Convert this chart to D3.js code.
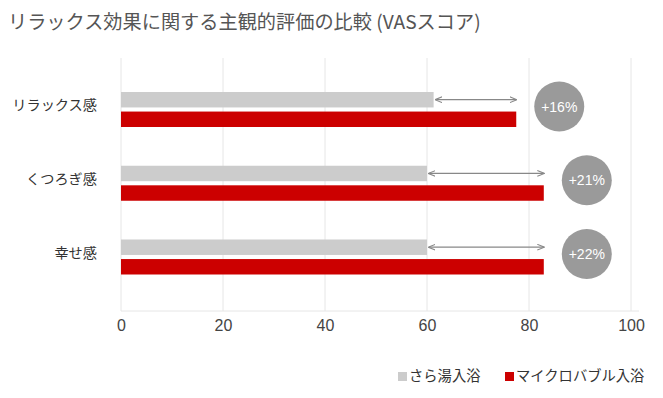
<!DOCTYPE html>
<html>
<head>
<meta charset="utf-8">
<script src="https://cdn.jsdelivr.net/npm/d3@7"></script>
<style>
  body { margin: 0; background: #fff; }
  svg text { font-family: "Noto Sans CJK JP", "Noto Sans", sans-serif; }
</style>
</head>
<body>
<svg id="chart" width="663" height="398"></svg>
<script>
const categories = ["リラックス感", "くつろぎ感", "幸せ感"];
const seriesNames = ["さら湯入浴", "マイクロバブル入浴"];
const plainBath = [61.3, 60, 60];
const microBath = [77.5, 82.9, 82.9];
const increaseLabels = ["+16%", "+21%", "+22%"];
const xTicks = [0, 20, 40, 60, 80, 100];

const colors = { "さら湯入浴": "#cccccc", "マイクロバブル入浴": "#cc0000" };
const latinFont = "'Liberation Sans', Arial, sans-serif";

const svg = d3.select("#chart");

svg.append("text")
  .attr("x", 8)
  .attr("y", 29)
  .attr("font-size", 19.2)
  .attr("fill", "#555")
  .text("リラックス効果に関する主観的評価の比較 (VASスコア)");

const x = d3.scaleLinear().domain([0, 100]).range([121, 631]);
const y = d3.scalePoint().domain(categories).range([109.5, 257]);
const sub = d3.scaleBand().domain(seriesNames).range([-17.5, 17.5]).paddingInner(0.21);

// grid
const gTop = 58, gBottom = 311;
svg.append("g")
  .selectAll("line")
  .data(xTicks)
  .join("line")
  .attr("x1", d => x(d)).attr("x2", d => x(d))
  .attr("y1", gTop).attr("y2", gBottom)
  .attr("stroke", "#e6e6e6")
  .attr("stroke-width", 1);

svg.append("line")
  .attr("x1", x(0)).attr("x2", x(100) + 8)
  .attr("y1", gBottom).attr("y2", gBottom)
  .attr("stroke", "#e6e6e6");

// x axis labels
const xAxis = d3.axisBottom(x).tickValues(xTicks).tickSize(0).tickPadding(9);
const ax = svg.append("g").attr("transform", `translate(0,${gBottom})`).call(xAxis);
ax.select(".domain").remove();
ax.selectAll("text")
  .attr("font-size", 16)
  .attr("fill", "#444")
  .style("font-family", latinFont);

// category labels
svg.append("g")
  .selectAll("text")
  .data(categories)
  .join("text")
  .attr("x", 97)
  .attr("y", d => y(d) - 3)
  .attr("text-anchor", "end")
  .attr("dominant-baseline", "middle")
  .attr("font-size", 14.2)
  .attr("fill", "#333")
  .text(d => d);

// bars
const rows = categories.map((c, i) => ({ cat: c, plain: plainBath[i], micro: microBath[i], inc: increaseLabels[i] }));

const rowG = svg.append("g").selectAll("g")
  .data(rows)
  .join("g")
  .attr("transform", d => `translate(0,${y(d.cat)})`);

rowG.append("rect")
  .attr("x", x(0))
  .attr("y", sub(seriesNames[0]))
  .attr("width", d => x(d.plain) - x(0))
  .attr("height", sub.bandwidth())
  .attr("fill", colors[seriesNames[0]]);

rowG.append("rect")
  .attr("x", x(0))
  .attr("y", sub(seriesNames[1]))
  .attr("width", d => x(d.micro) - x(0))
  .attr("height", sub.bandwidth())
  .attr("fill", colors[seriesNames[1]]);

// arrows
const defs = svg.append("defs");
["arrowEnd", "arrowStart"].forEach((id, k) => {
  defs.append("marker")
    .attr("id", id)
    .attr("viewBox", "0 0 10 10")
    .attr("refX", k === 0 ? 9 : 1)
    .attr("refY", 5)
    .attr("markerWidth", 6)
    .attr("markerHeight", 6)
    .attr("orient", "auto")
    .append("path")
    .attr("d", k === 0 ? "M0,1 L10,5 L0,9" : "M10,1 L0,5 L10,9")
    .attr("fill", "none")
    .attr("stroke", "#888")
    .attr("stroke-width", 1.5);
});

rowG.append("line")
  .attr("x1", d => x(d.plain) + 2)
  .attr("x2", d => x(d.micro))
  .attr("y1", sub(seriesNames[0]) + sub.bandwidth() / 2)
  .attr("y2", sub(seriesNames[0]) + sub.bandwidth() / 2)
  .attr("stroke", "#888")
  .attr("stroke-width", 1.2)
  .attr("marker-start", "url(#arrowStart)")
  .attr("marker-end", "url(#arrowEnd)");

// circles
rowG.append("circle")
  .attr("cx", d => x(d.micro) + 43)
  .attr("cy", -3)
  .attr("r", 25)
  .attr("fill", "#9a9a9a");

rowG.append("text")
  .attr("x", d => x(d.micro) + 43)
  .attr("y", -3)
  .attr("text-anchor", "middle")
  .attr("dominant-baseline", "central")
  .attr("font-size", 14)
  .attr("fill", "#fff")
  .style("font-family", latinFont)
  .text(d => d.inc);

// legend
const legend = svg.append("g");
const legendItems = [
  { name: seriesNames[0], x: 398 },
  { name: seriesNames[1], x: 505 }
];
legendItems.forEach(it => {
  legend.append("rect")
    .attr("x", it.x).attr("y", 372)
    .attr("width", 9).attr("height", 9)
    .attr("fill", colors[it.name]);
  legend.append("text")
    .attr("x", it.x + 11).attr("y", 377)
    .attr("dominant-baseline", "middle")
    .attr("font-size", 14.3)
    .attr("fill", "#333")
    .text(it.name);
});
</script>
</body>
</html>
